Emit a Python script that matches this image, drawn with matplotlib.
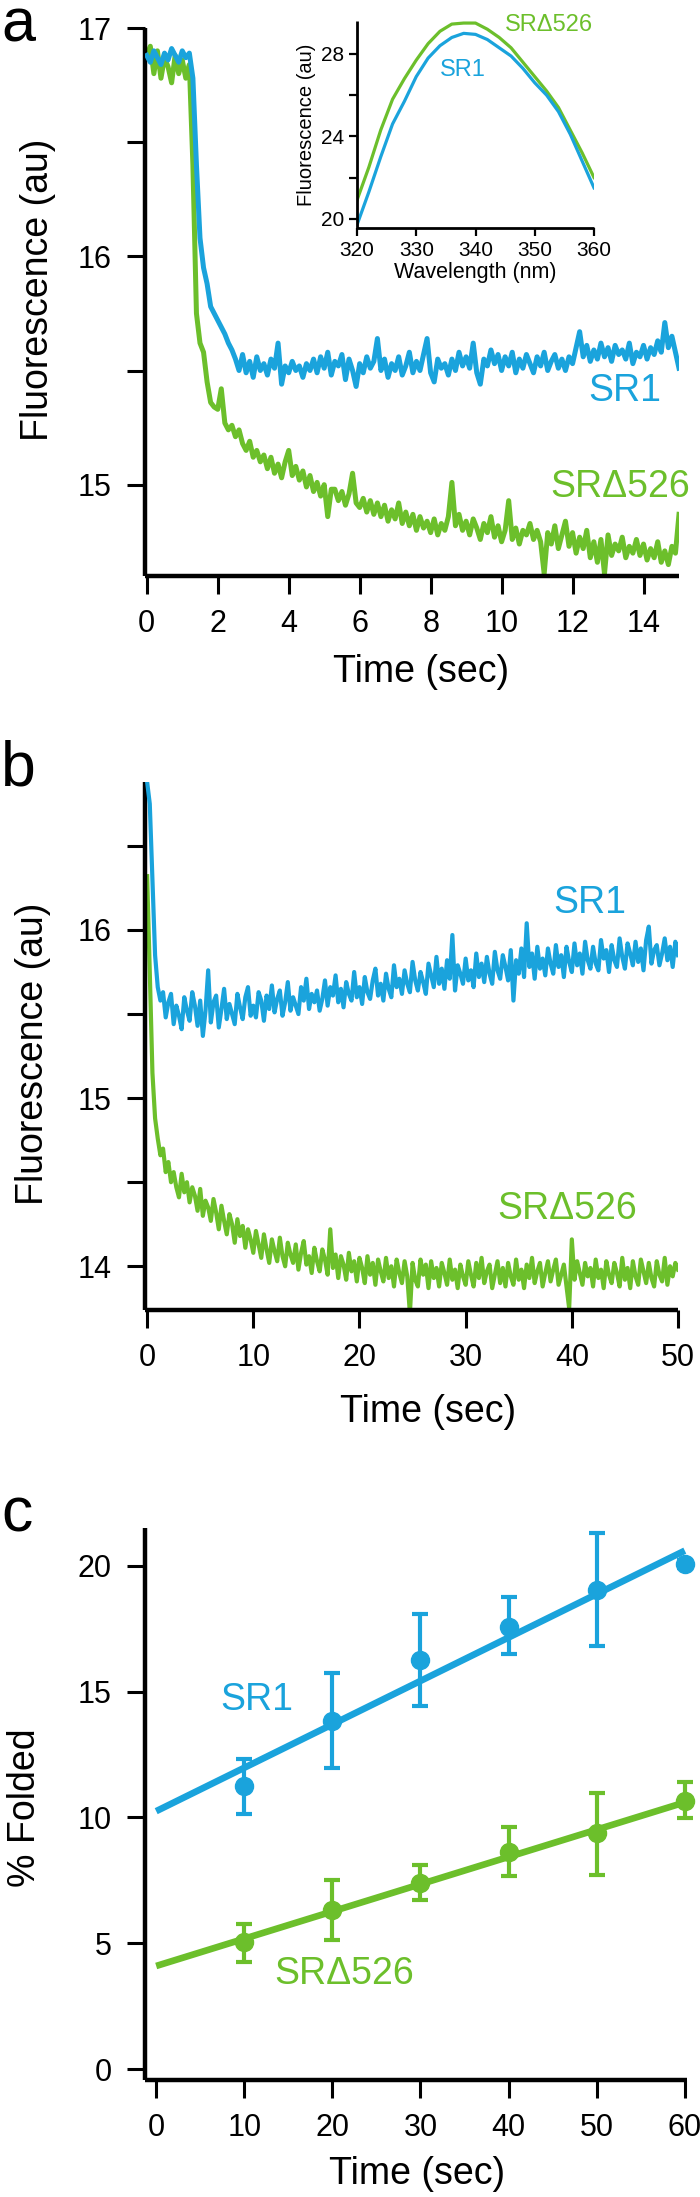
import numpy as np
import matplotlib
matplotlib.use("Agg")
import matplotlib.pyplot as plt

plt.rcParams['font.family'] = ['Liberation Sans', 'DejaVu Sans']

BLUE = '#1AA3DC'
GREEN = '#6CBF2B'

# ---------------- Panel a : stopped-flow trace (0-15 s, 0.1 s step) ----------------
time_a = np.round(np.arange(0, 15.001, 0.1), 2)
sr1_a = [
    16.88, 16.85, 16.90, 16.87, 16.84, 16.89, 16.86, 16.91, 16.88, 16.85,
    16.90, 16.87, 16.89, 16.78, 16.40, 16.08, 15.95, 15.88, 15.78, 15.75,
    15.72, 15.69, 15.66, 15.62, 15.59, 15.55, 15.50, 15.57, 15.49, 15.54,
    15.47, 15.56, 15.50, 15.53, 15.48, 15.55, 15.51, 15.62, 15.44, 15.52,
    15.49, 15.54, 15.50, 15.52, 15.47, 15.53, 15.50, 15.55, 15.49, 15.56,
    15.51, 15.58, 15.48, 15.54, 15.52, 15.57, 15.46, 15.55, 15.50, 15.43,
    15.53, 15.49, 15.56, 15.51, 15.54, 15.64, 15.50, 15.55, 15.47, 15.53,
    15.50, 15.56, 15.48, 15.52, 15.58, 15.49, 15.54, 15.50, 15.57, 15.64,
    15.49, 15.45, 15.55, 15.51, 15.53, 15.48, 15.55, 15.50, 15.58, 15.52,
    15.56, 15.51, 15.62, 15.49, 15.44, 15.55, 15.52, 15.59, 15.53, 15.57,
    15.50, 15.56, 15.52, 15.58, 15.49, 15.55, 15.51, 15.57, 15.53, 15.49,
    15.56, 15.52, 15.58, 15.50, 15.54, 15.57, 15.51, 15.55, 15.50, 15.56,
    15.53, 15.60, 15.67, 15.56, 15.61, 15.54, 15.59, 15.55, 15.62, 15.56,
    15.60, 15.54, 15.61, 15.57, 15.59, 15.55, 15.62, 15.53, 15.58, 15.56,
    15.61, 15.55, 15.60, 15.57, 15.63, 15.58, 15.71, 15.60, 15.65, 15.58,
    15.51,
]
srd_a = [
    16.88, 16.92, 16.80, 16.90, 16.78, 16.87, 16.83, 16.76, 16.88, 16.80,
    16.86, 16.78, 16.84, 16.40, 15.75, 15.62, 15.58, 15.45, 15.36, 15.34,
    15.33, 15.42, 15.27, 15.24, 15.26, 15.21, 15.24, 15.18, 15.15, 15.19,
    15.12, 15.15, 15.10, 15.13, 15.07, 15.12, 15.05, 15.09, 15.03, 15.10,
    15.15, 15.04, 15.08, 15.02, 15.06, 14.99, 15.04, 14.97, 15.01, 14.95,
    15.00, 14.86, 14.98, 14.98, 14.93, 14.97, 14.91, 14.96, 15.05, 14.92,
    14.90, 14.94, 14.88, 14.93, 14.87, 14.92, 14.86, 14.91, 14.84, 14.89,
    14.85, 14.92, 14.83, 14.88, 14.82, 14.87, 14.80, 14.86, 14.81, 14.84,
    14.79, 14.85, 14.78, 14.83, 14.80, 14.86, 15.01, 14.82, 14.87, 14.80,
    14.84, 14.78, 14.85, 14.81, 14.76, 14.83, 14.79, 14.86, 14.77, 14.82,
    14.75, 14.80, 14.93, 14.76, 14.81, 14.74, 14.80, 14.78, 14.83, 14.76,
    14.80, 14.75, 14.61, 14.79, 14.74, 14.82, 14.72, 14.78, 14.84, 14.73,
    14.79, 14.70, 14.77, 14.72, 14.80, 14.68, 14.75, 14.66, 14.76, 14.61,
    14.78, 14.69, 14.74, 14.71, 14.77, 14.68, 14.73, 14.70, 14.76, 14.69,
    14.74, 14.67, 14.72, 14.68, 14.75, 14.66, 14.71, 14.65, 14.73, 14.70,
    14.87,
]

# inset : emission spectra
wavelength = [320, 322, 324, 326, 328, 330, 332, 334, 336, 338, 340,
              342, 344, 346, 348, 350, 352, 354, 356, 358, 360]
sr1_spec = [19.7, 21.3, 23.0, 24.6, 25.7, 26.9, 27.8, 28.4, 28.8, 29.0, 28.95,
            28.7, 28.3, 27.9, 27.3, 26.6, 26.0, 25.2, 24.1, 22.8, 21.5]
srd_spec = [20.9, 22.5, 24.3, 25.8, 26.8, 27.7, 28.5, 29.1, 29.45, 29.5, 29.5,
            29.2, 28.8, 28.3, 27.6, 26.9, 26.2, 25.4, 24.3, 23.2, 22.0]

# ---------------- Panel b : long trace (0-50 s, 0.25 s step) ----------------
time_b = np.round(np.arange(0, 50.001, 0.25), 2)
sr1_b = [
    16.88, 16.75, 16.30, 15.85, 15.66, 15.58, 15.63, 15.48,
    15.57, 15.62, 15.44, 15.55, 15.49, 15.41, 15.60, 15.52,
    15.46, 15.63, 15.55, 15.43, 15.58, 15.37, 15.52, 15.76,
    15.45, 15.57, 15.61, 15.42, 15.53, 15.65, 15.47, 15.56,
    15.50, 15.44, 15.62, 15.54, 15.47, 15.60, 15.66, 15.49,
    15.55, 15.48, 15.63, 15.58, 15.46, 15.61, 15.53, 15.67,
    15.51, 15.59, 15.64, 15.49, 15.57, 15.69, 15.52, 15.60,
    15.55, 15.50, 15.66, 15.58, 15.71, 15.53, 15.62, 15.57,
    15.64, 15.52, 15.59, 15.70, 15.55, 15.66, 15.61, 15.73,
    15.57, 15.65, 15.54, 15.69, 15.62, 15.58, 15.75, 15.60,
    15.66, 15.56, 15.72, 15.63, 15.59, 15.70, 15.77, 15.61,
    15.68, 15.58, 15.74, 15.65, 15.60, 15.79, 15.66, 15.71,
    15.62, 15.76, 15.68, 15.63, 15.81, 15.70, 15.64, 15.75,
    15.69, 15.62, 15.80, 15.73, 15.66, 15.84, 15.68, 15.77,
    15.65, 15.82, 15.71, 15.97, 15.64, 15.79, 15.74, 15.68,
    15.83, 15.70, 15.76, 15.66, 15.86, 15.72, 15.80, 15.69,
    15.84, 15.74, 15.68, 15.87, 15.76, 15.71, 15.85, 15.78,
    15.70, 15.88, 15.58, 15.82, 15.74, 15.89, 15.72, 16.04,
    15.78, 15.86, 15.71, 15.90, 15.77, 15.83, 15.73, 15.89,
    15.80, 15.74, 15.91, 15.78, 15.85, 15.72, 15.90, 15.81,
    15.75, 15.92, 15.79, 15.86, 15.74, 15.93, 15.82, 15.77,
    15.90, 15.80, 15.76, 15.94, 15.83, 15.88, 15.75, 15.91,
    15.82, 15.78, 15.95, 15.84, 15.77, 15.92, 15.86, 15.79,
    15.93, 15.81, 15.89, 15.76, 15.94, 16.02, 15.80, 15.88,
    15.91, 15.79, 15.86, 15.95, 15.82, 15.90, 15.78, 15.93,
    15.85,
]
srd_b = [
    16.32, 15.75, 15.15, 14.88, 14.76, 14.66, 14.70, 14.56,
    14.62, 14.50, 14.56, 14.47, 14.41, 14.55, 14.44, 14.50,
    14.38, 14.47, 14.42, 14.33, 14.46, 14.30, 14.39, 14.35,
    14.27, 14.40, 14.32, 14.22, 14.36, 14.27, 14.19, 14.31,
    14.25, 14.14, 14.28, 14.18, 14.24, 14.11, 14.22, 14.16,
    14.08, 14.21, 14.13, 14.05, 14.19, 14.10, 14.02, 14.16,
    14.09, 14.03, 14.17, 14.06, 14.00, 14.14, 14.07, 14.02,
    14.13, 13.98, 14.08, 14.15, 14.01, 14.06, 13.96, 14.11,
    14.03, 13.97, 14.10, 14.04, 13.95, 14.22, 13.99, 14.07,
    13.93, 14.06, 14.01, 13.92, 14.08, 13.97, 14.03, 13.91,
    14.05, 13.99, 13.90, 14.06, 13.95, 14.02, 13.89, 14.04,
    13.97, 13.91, 14.05, 13.93, 14.00, 13.88, 14.04, 13.96,
    13.90, 14.03, 13.94, 13.72, 14.02, 13.92, 13.88, 14.04,
    13.95, 14.01, 13.87, 14.03, 13.93, 13.99, 13.88, 14.02,
    13.96, 13.89, 14.04, 13.92, 13.98, 13.87, 14.01, 13.94,
    13.89, 14.03, 13.95, 13.88, 14.02, 13.93, 14.05, 13.90,
    13.97, 14.01, 13.87, 13.95, 14.03, 13.90, 13.99, 13.88,
    14.02, 13.94, 13.89, 14.04, 13.92, 13.98, 13.87, 14.01,
    13.93, 14.05, 13.90, 13.97, 14.02, 13.88, 13.96, 14.03,
    13.91, 13.98, 14.04, 13.89, 13.95, 14.01, 13.88, 13.75,
    14.16, 13.92, 14.03, 13.96, 13.89, 14.02, 13.94, 13.99,
    13.88, 14.04, 13.93, 13.98, 13.87, 14.03, 13.95, 13.90,
    14.02, 13.96, 13.88, 14.05, 13.92, 13.99, 13.87, 14.03,
    13.94, 13.89, 14.04, 13.97, 13.90, 14.02, 13.93, 13.88,
    14.03, 13.95, 13.91, 14.05, 13.89, 14.00, 13.94, 14.02,
    13.98,
]

# ---------------- Panel c : % folded ----------------
time_c = [10, 20, 30, 40, 50, 60]
sr1_c = [11.24, 13.84, 16.24, 17.57, 19.04, 20.06]
sr1_c_lo = [1.12, 1.86, 1.83, 1.08, 2.22, 0.15]
sr1_c_hi = [1.07, 1.89, 1.86, 1.18, 2.25, 0.15]
srd_c = [5.06, 6.33, 7.41, 8.63, 9.37, 10.65]
srd_c_lo = [0.79, 1.21, 0.68, 0.96, 1.66, 0.69]
srd_c_hi = [0.72, 1.18, 0.69, 0.98, 1.61, 0.74]
fit_t = [0, 60]
sr1_fit = [10.25, 20.6]
srd_fit = [4.1, 10.6]

W, H = 700, 2197
fig = plt.figure(figsize=(W / 100, H / 100), dpi=100)


def rect(l, t, r, b):
    return [l / W, 1 - b / H, (r - l) / W, (b - t) / H]


def fxy(x, y):
    return x / W, 1 - y / H


def style(ax, spw=3.2, tl=13, tw=2.2, ls=22, pad=11):
    for s in ['top', 'right']:
        ax.spines[s].set_visible(False)
    for s in ['left', 'bottom']:
        ax.spines[s].set_linewidth(spw)
        ax.spines[s].set_capstyle('butt')
    ax.tick_params(direction='out', length=tl, width=tw, labelsize=ls,
                   pad=pad, colors='black')


# ---- panel a
axa = fig.add_axes(rect(145, 28, 679, 576))
axa.plot(time_a, sr1_a, color=BLUE, lw=3.6, solid_joinstyle='round', zorder=3)
axa.plot(time_a, srd_a, color=GREEN, lw=3.6, solid_joinstyle='round', zorder=2)
axa.set_xlim(-0.05, 15.0)
axa.set_ylim(14.6, 17.0)
axa.set_xticks(range(0, 15, 2))
axa.set_yticks([15, 15.5, 16, 16.5, 17])
axa.set_yticklabels(['15', '', '16', '', '17'])
style(axa)
axa.text(12.44, 15.41, 'SR1', color=BLUE, fontsize=27, va='center', ha='left')
axa.text(11.37, 14.99, 'SR\u0394526', color=GREEN, fontsize=27, va='center', ha='left')

# inset
axi = fig.add_axes(rect(357, 21, 594, 228))
axi.plot(wavelength, srd_spec, color=GREEN, lw=2.3)
axi.plot(wavelength, sr1_spec, color=BLUE, lw=2.3)
axi.set_xlim(320, 360)
axi.set_ylim(19.55, 29.6)
axi.set_xticks([320, 330, 340, 350, 360])
axi.set_yticks([20, 22, 24, 26, 28])
axi.set_yticklabels(['20', '', '24', '', '28'])
style(axi, spw=2.0, tl=6, tw=1.6, ls=15, pad=3)
axi.set_xlabel('Wavelength (nm)', fontsize=15.5, labelpad=2)
axi.set_ylabel('Fluorescence (au)', fontsize=14.5, labelpad=4)
axi.text(344.9, 29.42, 'SR\u0394526', color=GREEN, fontsize=17, va='center', ha='left', clip_on=False)
axi.text(334.0, 27.2, 'SR1', color=BLUE, fontsize=17, va='center', ha='left')

# ---- panel b
axb = fig.add_axes(rect(145, 782, 678, 1310))
axb.plot(time_b, sr1_b, color=BLUE, lw=3.0, zorder=3)
axb.plot(time_b, srd_b, color=GREEN, lw=3.0, zorder=2)
axb.set_xlim(-0.2, 50)
axb.set_ylim(13.74, 16.88)
axb.set_xticks(range(0, 51, 10))
axb.set_yticks([14, 14.5, 15, 15.5, 16, 16.5])
axb.set_yticklabels(['14', '', '15', '', '16', ''])
style(axb)
axb.text(38.3, 16.16, 'SR1', color=BLUE, fontsize=27, va='center', ha='left')
axb.text(33.0, 14.34, 'SR\u0394526', color=GREEN, fontsize=27, va='center', ha='left')

# ---- panel c
axc = fig.add_axes(rect(145, 1528, 687, 2080))
axc.plot(fit_t, sr1_fit, color=BLUE, lw=4.8, solid_capstyle='butt', zorder=2)
axc.plot(fit_t, srd_fit, color=GREEN, lw=4.8, solid_capstyle='butt', zorder=2)
axc.errorbar(time_c, sr1_c, yerr=[sr1_c_lo, sr1_c_hi], fmt='o', color=BLUE,
             ms=13, elinewidth=3, capsize=5.5, capthick=3, zorder=3, clip_on=False)
axc.errorbar(time_c, srd_c, yerr=[srd_c_lo, srd_c_hi], fmt='o', color=GREEN,
             ms=13, elinewidth=3, capsize=5.5, capthick=3, zorder=3, clip_on=False)
axc.set_xlim(-1.27, 60.25)
axc.set_ylim(-0.43, 21.5)
axc.set_xticks(range(0, 61, 10))
axc.set_yticks([0, 5, 10, 15, 20])
style(axc)
axc.text(7.3, 14.67, 'SR1', color=BLUE, fontsize=27, va='center', ha='left')
axc.text(13.4, 3.78, 'SR\u0394526', color=GREEN, fontsize=27, va='center', ha='left')

# axis labels
fig.text(*fxy(38, 290), 'Fluorescence (au)', rotation=90, fontsize=27, ha='center', va='center')
fig.text(*fxy(421, 672), 'Time (sec)', fontsize=27, ha='center', va='center')
fig.text(*fxy(33, 1054), 'Fluorescence (au)', rotation=90, fontsize=27, ha='center', va='center')
fig.text(*fxy(428, 1412), 'Time (sec)', fontsize=27, ha='center', va='center')
fig.text(*fxy(25, 1808), '% Folded', rotation=90, fontsize=27, ha='center', va='center')
fig.text(*fxy(417, 2174), 'Time (sec)', fontsize=27, ha='center', va='center')

# panel letters
fig.text(*fxy(1, 41), 'a', fontsize=44, ha='left', va='baseline')
fig.text(*fxy(1, 785), 'b', fontsize=45, ha='left', va='baseline')
fig.text(*fxy(1, 1532), 'c', fontsize=45, ha='left', va='baseline')

fig.savefig('out.png', dpi=100)
